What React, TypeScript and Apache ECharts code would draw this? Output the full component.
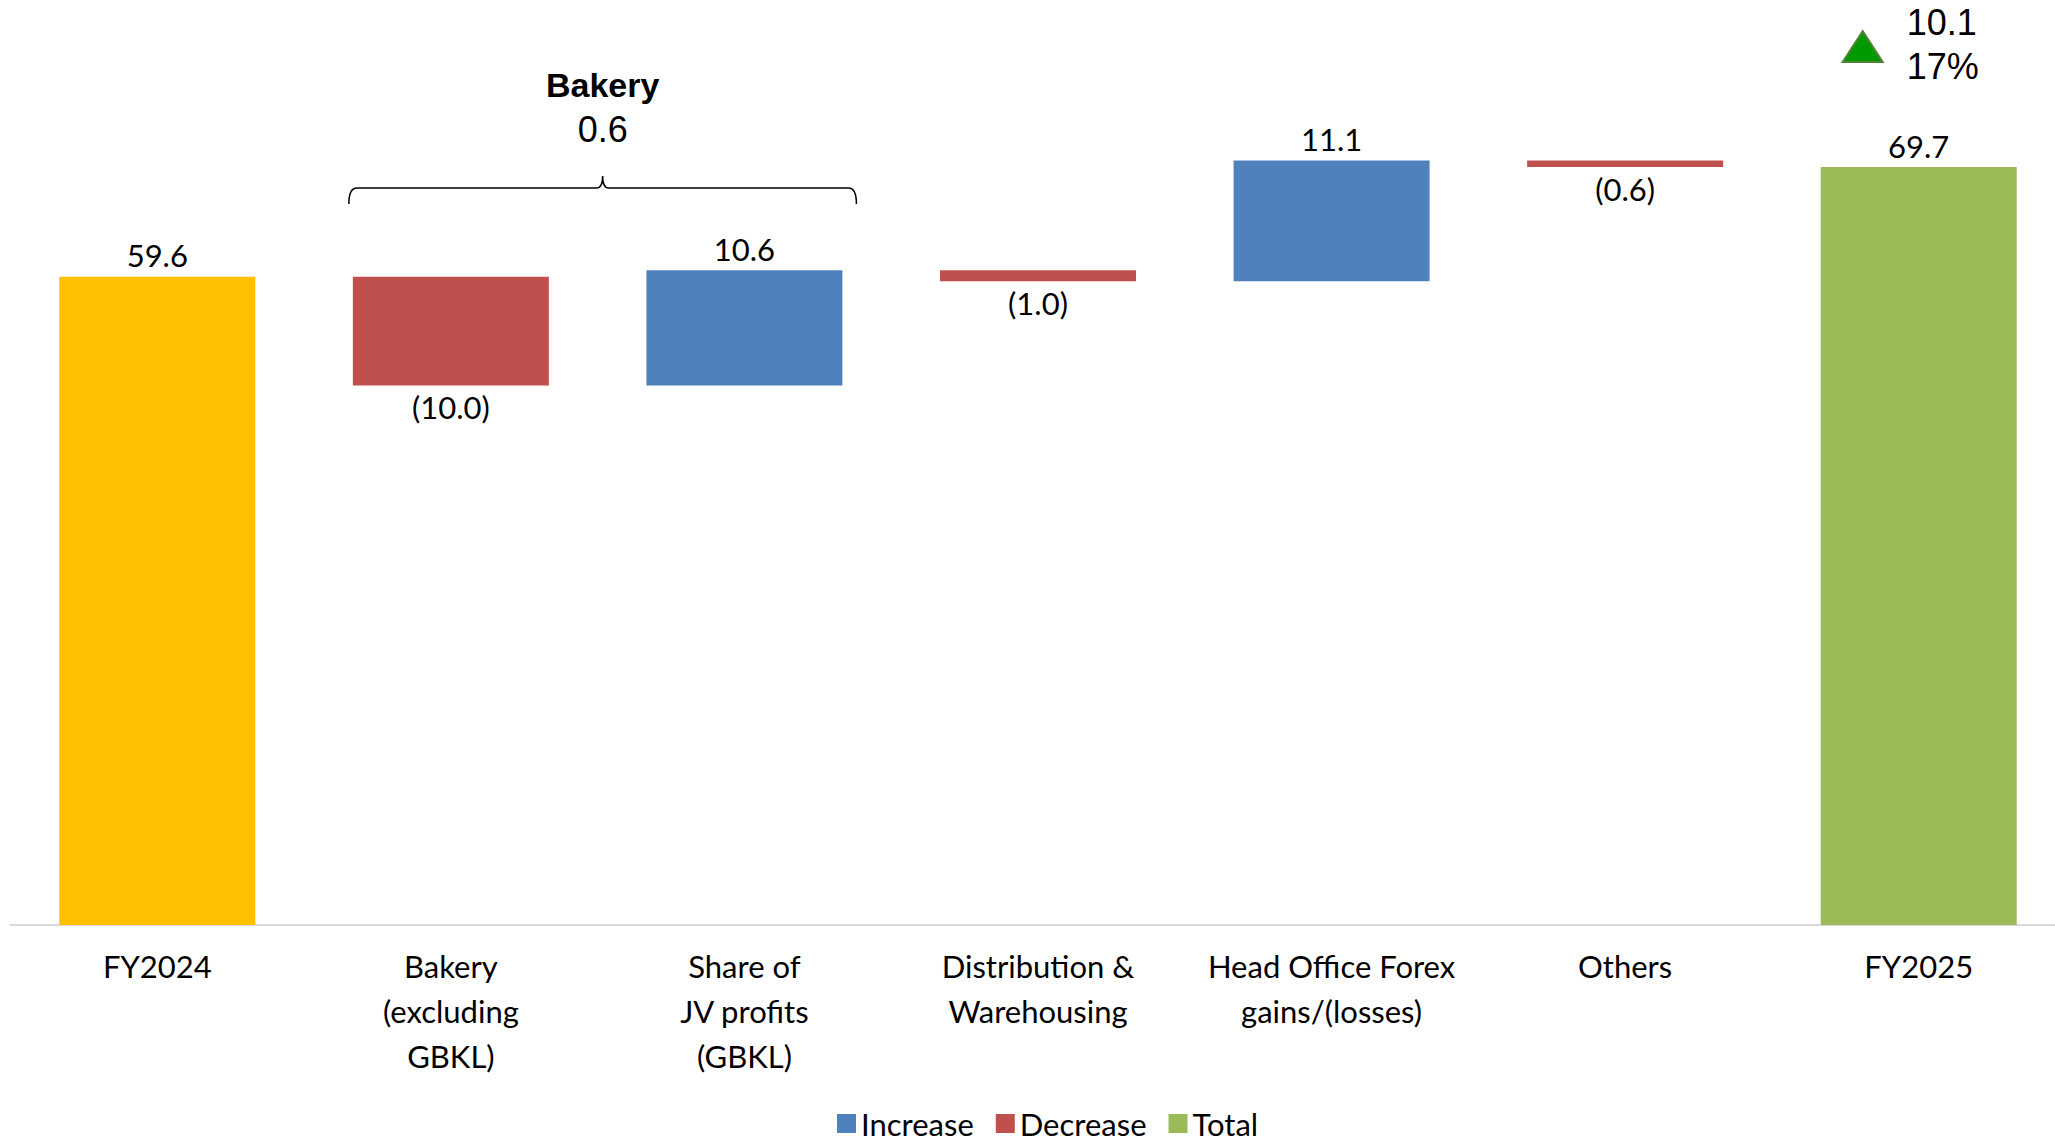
import React, { useEffect, useRef } from "react";
import * as echarts from "echarts";

// ---- data ----
const categories = [
  "FY2024",
  "Bakery\n(excluding\nGBKL)",
  "Share of\nJV profits\n(GBKL)",
  "Distribution &\nWarehousing",
  "Head Office Forex\ngains/(losses)",
  "Others",
  "FY2025",
];
const startValue = 59.6;
const changes = [-10.0, 10.6, -1.0, 11.1, -0.6];
const endValue = 69.7;
const legendNames = ["Increase", "Decrease", "Total"];
const groupTitle = "Bakery";
const groupValue = "0.6";
const totalChange = "10.1";
const totalChangePct = "17%";

const COLORS = {
  start: "#FFC000",
  increase: "#4F81BD",
  decrease: "#C0504D",
  total: "#9BBB59",
};
const LABEL_FONT = "Lato";
const LABEL_SIZE = 31;
const BAR_W = 196;

function buildSeriesData() {
  const base: any[] = [0];
  const inc: any[] = ["-"];
  const dec: any[] = ["-"];
  const tot: any[] = [{ value: startValue, itemStyle: { color: COLORS.start } }];
  let r = startValue;
  for (const d of changes) {
    base.push(d < 0 ? +(r + d).toFixed(2) : +r.toFixed(2));
    inc.push(d > 0 ? d : "-");
    dec.push(d < 0 ? -d : "-");
    tot.push("-");
    r += d;
  }
  base.push(0);
  inc.push("-");
  dec.push("-");
  tot.push(endValue);
  return { base, inc, dec, tot };
}

export default function App() {
  const ref = useRef<HTMLDivElement>(null);
  useEffect(() => {
    if (!ref.current) return;
    const chart = echarts.init(ref.current, null, { renderer: "svg" });
    const { base, inc, dec, tot } = buildSeriesData();
    const labelStyle = {
      show: true,
      color: "#000",
      fontFamily: LABEL_FONT,
      fontSize: LABEL_SIZE,
    };
    chart.setOption({
      animation: false,
      grid: { left: 10.5, width: 2055, top: 55, bottom: 211, containLabel: false },
      legend: {
        data: legendNames,
        left: 832,
        top: 1103,
        icon: "rect",
        itemWidth: 19,
        itemHeight: 19,
        itemGap: 22,
        textStyle: { color: "#000", fontFamily: LABEL_FONT, fontSize: LABEL_SIZE },
      },
      xAxis: {
        type: "category",
        data: categories,
        axisLine: { show: true, lineStyle: { color: "#D9D9D9", width: 2 } },
        axisTick: { show: false },
        axisLabel: {
          color: "#000",
          fontFamily: LABEL_FONT,
          fontSize: LABEL_SIZE,
          lineHeight: 45,
          margin: 18,
          interval: 0,
        },
      },
      yAxis: { type: "value", min: 0, max: 80, show: false },
      series: [
        {
          type: "bar",
          stack: "w",
          data: base,
          barWidth: BAR_W,
          itemStyle: { color: "transparent" },
          silent: true,
        },
        {
          name: "Increase",
          type: "bar",
          stack: "w",
          data: inc,
          barWidth: BAR_W,
          itemStyle: { color: COLORS.increase },
          label: { ...labelStyle, position: "top", distance: 6, formatter: (p: any) => Number(p.value).toFixed(1) },
        },
        {
          name: "Decrease",
          type: "bar",
          stack: "w",
          data: dec,
          barWidth: BAR_W,
          itemStyle: { color: COLORS.decrease },
          label: { ...labelStyle, position: "bottom", distance: 6, formatter: (p: any) => `(${Number(p.value).toFixed(1)})` },
        },
        {
          name: "Total",
          type: "bar",
          stack: "w",
          data: tot,
          barWidth: BAR_W,
          itemStyle: { color: COLORS.total },
          label: { ...labelStyle, position: "top", distance: 6, formatter: (p: any) => Number(p.value).toFixed(1) },
        },
      ],
    });

    const cx = (i: number) => chart.convertToPixel({ xAxisIndex: 0 }, i) as number;
    const x1 = cx(1) - BAR_W / 2 - 4;
    const x2 = cx(2) + BAR_W / 2 + 14;
    const mid = (x1 + x2) / 2;
    const yb = 188;
    const d = `M ${x1} ${yb + 16} Q ${x1} ${yb} ${x1 + 8} ${yb} L ${mid - 6} ${yb} Q ${mid} ${yb} ${mid} ${yb - 12} Q ${mid} ${yb} ${mid + 6} ${yb} L ${x2 - 8} ${yb} Q ${x2} ${yb} ${x2} ${yb + 16}`;
    echarts.graphic.registerShape("brace", (echarts.graphic as any).extendPath(d, {}));
    const endX = cx(6);
    chart.setOption({
      graphic: [
        { type: "brace", x: 0, y: 0, style: { stroke: "#000", fill: "none", lineWidth: 1.5 } },
        {
          type: "text",
          x: mid,
          y: 85,
          style: { text: groupTitle, fill: "#000", font: "bold 34px 'Liberation Sans', Arial", textAlign: "center", textVerticalAlign: "middle" },
        },
        {
          type: "text",
          x: mid,
          y: 129,
          style: { text: groupValue, fill: "#000", font: "36px 'Liberation Sans', Arial", textAlign: "center", textVerticalAlign: "middle" },
        },
        {
          type: "polygon",
          shape: { points: [[endX - 56, 31], [endX - 76, 62], [endX - 36, 62]] },
          style: { fill: "#009900", stroke: "#548235", lineWidth: 2 },
        },
        {
          type: "text",
          x: endX - 12,
          y: 22,
          style: { text: totalChange, fill: "#000", font: "36px 'Liberation Sans', Arial", textAlign: "left", textVerticalAlign: "middle" },
        },
        {
          type: "text",
          x: endX - 12,
          y: 66,
          style: { text: totalChangePct, fill: "#000", font: "36px 'Liberation Sans', Arial", textAlign: "left", textVerticalAlign: "middle" },
        },
      ],
    });
    return () => chart.dispose();
  }, []);
  return (
    <div
      style={{ position: "absolute", left: 0, top: 0, width: 2055, height: 1136, overflow: "hidden", background: "#fff" }}
    >
      <div ref={ref} style={{ width: 2075, height: 1136 }} />
    </div>
  );
}
